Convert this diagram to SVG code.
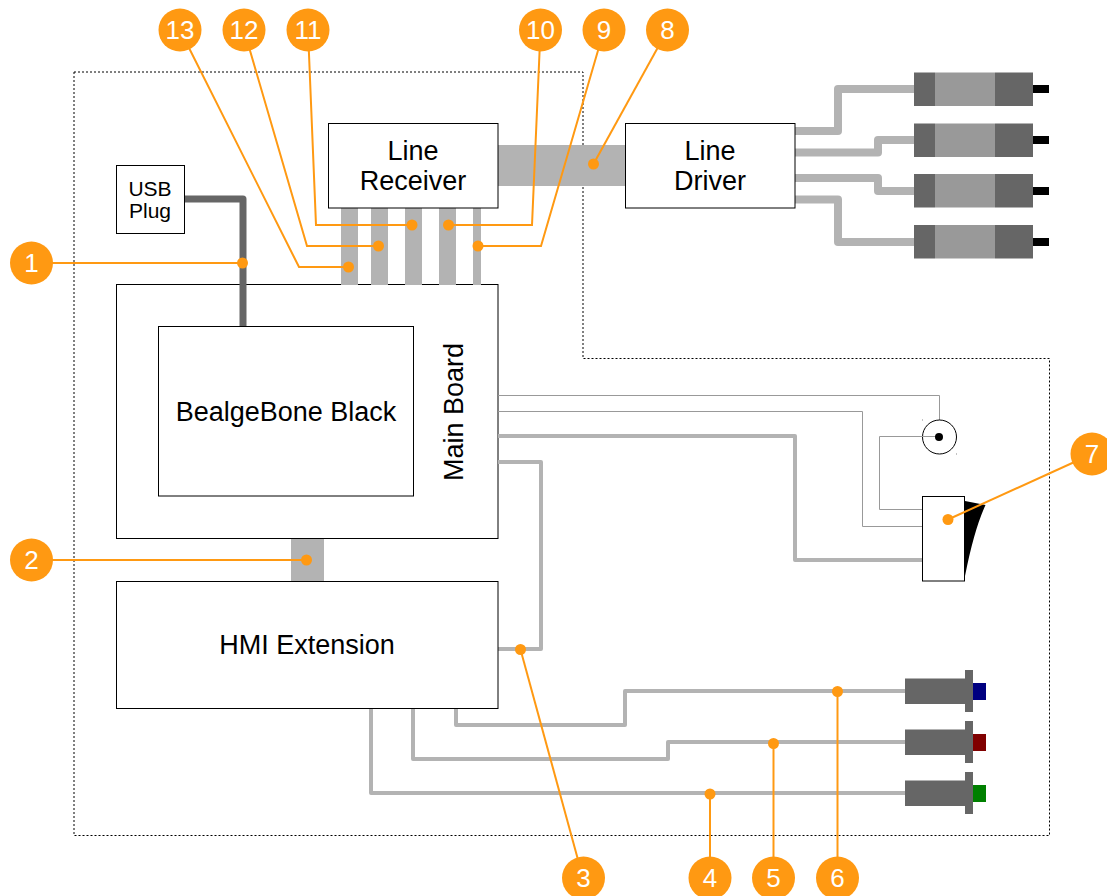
<svg xmlns="http://www.w3.org/2000/svg" width="1107" height="896" viewBox="0 0 1107 896">
<style>
text{font-family:"Liberation Sans",Arial,sans-serif;fill:#000;text-anchor:middle}
.b{fill:#fff;stroke:#000;stroke-width:1}
.t{font-size:27px}
.w{fill:none;stroke:#b3b3b3;stroke-width:4;stroke-linejoin:round}
.wm{fill:none;stroke:#b3b3b3;stroke-width:8;stroke-linejoin:round}
.wt{fill:none;stroke:#999;stroke-width:1}
.bar{fill:#b3b3b3}
.dk{fill:#666}
.md{fill:#999}
.l{fill:none;stroke:#ff9912;stroke-width:2}
.c{fill:#ff9912}
.n{font-size:26px;fill:#fff}
</style>
<path id="boundary" d="M74 72H583V358.500H1049.500V835.500H74Z" fill="none" stroke="#000" stroke-width="1" stroke-dasharray="2 2"/>
<g id="main-board"><rect class="b" x="116.500" y="284.500" width="381.500" height="254"/><text class="t" transform="translate(463 412) rotate(-90)">Main Board</text></g>
<g id="connectors">
<rect class="bar" x="341" y="208" width="17" height="77"/>
<rect class="bar" x="371" y="208" width="17" height="77"/>
<rect class="bar" x="405" y="208" width="17" height="77"/>
<rect class="bar" x="439" y="208" width="17" height="77"/>
<rect class="bar" x="473" y="208" width="8" height="77"/>
<rect class="bar" x="498" y="145" width="128" height="41"/>
<rect class="bar" x="291" y="539" width="33" height="42"/>
<path d="M184 199H243V327" fill="none" stroke="#666" stroke-width="7" stroke-linejoin="round"/>
<path class="wm" d="M795 131H838V89H914"/>
<path class="wm" d="M795 152.500H878V140H914"/>
<path class="wm" d="M795 178H878V191H914"/>
<path class="wm" d="M795 199.500H838V242H914"/>
<path class="wt" d="M498 395.500H939.500V420"/>
<path class="wt" d="M498 411.500H862.500V526.500H922"/>
<path class="w" d="M498 436H795V560H922"/>
<path class="w" d="M498 462H541V649H498"/>
<path class="wt" d="M922 509.500H879.500V436.500H922"/>
<path class="w" d="M456 708V725H625V691H905"/>
<path class="w" d="M413 708V759H668V742H905"/>
<path class="w" d="M371 708V793H905"/>
</g>
<g id="line-receiver"><rect class="b" x="328.500" y="123.500" width="169.500" height="84.500"/><text class="t" x="413" y="160">Line</text><text class="t" x="413" y="190">Receiver</text></g>
<g id="line-driver"><rect class="b" x="625.500" y="123.500" width="169.500" height="84.500"/><text class="t" x="710" y="160">Line</text><text class="t" x="710" y="190">Driver</text></g>
<g id="usb-plug"><rect class="b" x="116.500" y="165.500" width="68" height="68"/><text x="150" y="195.500" font-size="21">USB</text><text x="150" y="218" font-size="21">Plug</text></g>
<g id="beaglebone"><rect class="b" x="158.500" y="326.500" width="255" height="169.500"/><text class="t" x="286" y="421">BealgeBone Black</text></g>
<g id="hmi-extension"><rect class="b" x="116.500" y="581.500" width="381.500" height="127"/><text class="t" x="307" y="654">HMI Extension</text></g>
<g id="motor-1"><rect class="dk" x="914" y="72.500" width="21" height="33.500"/><rect class="md" x="935" y="72.500" width="60" height="33.500"/><rect class="dk" x="995" y="72.500" width="38" height="33.500"/><rect x="1033" y="85" width="16" height="8"/></g>
<g id="motor-2"><rect class="dk" x="914" y="123.500" width="21" height="33.500"/><rect class="md" x="935" y="123.500" width="60" height="33.500"/><rect class="dk" x="995" y="123.500" width="38" height="33.500"/><rect x="1033" y="136" width="16" height="8"/></g>
<g id="motor-3"><rect class="dk" x="914" y="174" width="21" height="33.500"/><rect class="md" x="935" y="174" width="60" height="33.500"/><rect class="dk" x="995" y="174" width="38" height="33.500"/><rect x="1033" y="187" width="16" height="8"/></g>
<g id="motor-4"><rect class="dk" x="914" y="225" width="21" height="33.500"/><rect class="md" x="935" y="225" width="60" height="33.500"/><rect class="dk" x="995" y="225" width="38" height="33.500"/><rect x="1033" y="238" width="16" height="8"/></g>
<g id="connector-jack"><circle cx="939.500" cy="437" r="17" fill="#fff" stroke="#000" stroke-width="1"/><path d="M922 436.500H939" stroke="#999" fill="none"/><circle cx="939" cy="437" r="4"/><rect x="922" y="419.500" width="1" height="1" fill="#888"/><rect x="956" y="453.500" width="1" height="1" fill="#888"/></g>
<g id="switch"><path d="M965 501L985.500 505Q974 530 965 576Z"/><rect class="b" x="922.500" y="496.500" width="42" height="84.500"/></g>
<g id="button-blue"><rect class="dk" x="905" y="678.500" width="60" height="25.500"/><rect class="dk" x="965" y="670" width="8" height="42"/><rect x="973" y="683" width="13" height="17" fill="#000080"/></g>
<g id="button-red"><rect class="dk" x="905" y="729.500" width="60" height="25.500"/><rect class="dk" x="965" y="721" width="8" height="42"/><rect x="973" y="734" width="13" height="17" fill="#800000"/></g>
<g id="button-green"><rect class="dk" x="905" y="780.500" width="60" height="25.500"/><rect class="dk" x="965" y="772" width="8" height="42"/><rect x="973" y="785" width="13" height="17" fill="#008000"/></g>
<g id="leaders">
<path class="l" d="M31.500 263H242.500"/><path class="l" d="M31.500 560H306.500"/>
<path class="l" d="M583 878L520.500 649.500"/><path class="l" d="M710 878V794"/><path class="l" d="M773.500 878V743.500"/><path class="l" d="M837.500 878V691.500"/>
<path class="l" d="M1092 454L948 519.500"/><path class="l" d="M667.500 30L593.500 164"/>
<path class="l" d="M604 30L541 246H478"/><path class="l" d="M540.500 30L532 225H448.500"/>
<path class="l" d="M308 30L316 225H412"/><path class="l" d="M244 30L307 246H378.500"/><path class="l" d="M180 30L299 267H348.500"/>
<g class="c"><circle cx="242.500" cy="263" r="5.500"/><circle cx="306.500" cy="560" r="5.500"/><circle cx="520.500" cy="649.500" r="5.500"/><circle cx="710" cy="794" r="5.500"/><circle cx="773.500" cy="743.500" r="5.500"/><circle cx="837.500" cy="691.500" r="5.500"/><circle cx="948" cy="519.500" r="5.500"/><circle cx="593.500" cy="164" r="5.500"/><circle cx="478" cy="246" r="5.500"/><circle cx="448.500" cy="225" r="5.500"/><circle cx="412" cy="225" r="5.500"/><circle cx="378.500" cy="246" r="5.500"/><circle cx="348.500" cy="267" r="5.500"/></g>
</g>
<g id="label-1"><circle class="c" cx="31.500" cy="263" r="21.500"/><text class="n" x="31.500" y="272">1</text></g>
<g id="label-2"><circle class="c" cx="31.500" cy="560" r="21.500"/><text class="n" x="31.500" y="569">2</text></g>
<g id="label-3"><circle class="c" cx="583.500" cy="878" r="21.500"/><text class="n" x="583.500" y="887">3</text></g>
<g id="label-4"><circle class="c" cx="710" cy="878" r="21.500"/><text class="n" x="710" y="887">4</text></g>
<g id="label-5"><circle class="c" cx="773.500" cy="878" r="21.500"/><text class="n" x="773.500" y="887">5</text></g>
<g id="label-6"><circle class="c" cx="837.500" cy="878" r="21.500"/><text class="n" x="837.500" y="887">6</text></g>
<g id="label-7"><circle class="c" cx="1092" cy="454" r="21.500"/><text class="n" x="1092" y="463">7</text></g>
<g id="label-8"><circle class="c" cx="667.500" cy="30" r="21.500"/><text class="n" x="667.500" y="39">8</text></g>
<g id="label-9"><circle class="c" cx="604" cy="30" r="21.500"/><text class="n" x="604" y="39">9</text></g>
<g id="label-10"><circle class="c" cx="540.500" cy="30" r="21.500"/><text class="n" x="540.500" y="39">10</text></g>
<g id="label-11"><circle class="c" cx="308" cy="30" r="21.500"/><text class="n" x="308" y="39">11</text></g>
<g id="label-12"><circle class="c" cx="244" cy="30" r="21.500"/><text class="n" x="244" y="39">12</text></g>
<g id="label-13"><circle class="c" cx="180" cy="30" r="21.500"/><text class="n" x="180" y="39">13</text></g>
</svg>
